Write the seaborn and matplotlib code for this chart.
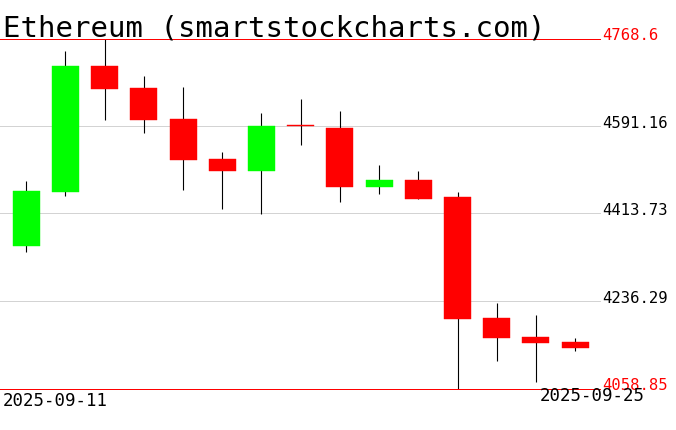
import math
import matplotlib
matplotlib.use("Agg")
import matplotlib.pyplot as plt
import seaborn as sns
import pandas as pd

# daily OHLC
dates = pd.date_range("2025-09-11", "2025-09-25", freq="D")
opens = [4349.4, 4458.9, 4713.8, 4669.2, 4607.0, 4525.3, 4501.5, 4593.0,
         4588.7, 4469.1, 4482.7, 4448.2, 4202.8, 4164.3, 4154.1]
highs = [4480.6, 4744.3, 4768.6, 4693.6, 4671.3, 4539.4, 4618.5, 4647.5,
         4622.6, 4513.1, 4500.9, 4458.3, 4232.6, 4208.9, 4162.3]
lows = [4337.3, 4450.8, 4605.0, 4578.6, 4463.0, 4424.5, 4414.3, 4554.2,
        4437.4, 4454.9, 4443.5, 4058.85, 4116.2, 4073.6, 4136.5]
closes = [4460.4, 4713.8, 4667.8, 4605.0, 4523.8, 4501.5, 4592.2, 4591.8,
          4469.1, 4482.7, 4444.1, 4201.4, 4162.9, 4152.7, 4142.6]

price_ticks = [4058.85, 4236.29, 4413.73, 4591.16, 4768.6]
price_labels = ["4058.85", "4236.29", "4413.73", "4591.16", "4768.6"]
title = "Ethereum (smartstockcharts.com)"

df = pd.DataFrame({"date": dates, "open": opens, "high": highs,
                   "low": lows, "close": closes})
df["x"] = range(len(df))
df["up"] = df["close"] >= df["open"]

sns.set_theme(style="white")
plt.rcParams["font.family"] = ["DejaVu Sans Mono"]
plt.rcParams["text.color"] = "black"

W, H = 676, 431
fig = plt.figure(figsize=(W / 100, H / 100), dpi=100)
fig.patch.set_facecolor("white")

# axes: 4768.6 sits at y=40px, 4058.85 at y=390px
top_px, bot_px = 38, 392
ax = fig.add_axes([0, (H - bot_px) / H, 601 / W, (bot_px - top_px) / H])
per_px = (price_ticks[-1] - price_ticks[0]) / 350
ymax = price_ticks[-1] + 2 * per_px
ax.set_ylim(price_ticks[0] - 2 * per_px, ymax)
ax.set_xlim(-0.67, len(df) - 1 + 0.66)
ax.set_axis_off()


def one_px_band(v, color, z):
    # snap a horizontal line to a single pixel row
    row = math.floor((ymax - v) / per_px + 1e-6)
    lo = ymax - (row + 1) * per_px
    ax.axhspan(lo, lo + per_px, color=color, lw=0, zorder=z)


# grid and max/min lines
for v in price_ticks[1:-1]:
    one_px_band(v, "#d3d3d3", 1)
for v in (price_ticks[0], price_ticks[-1]):
    one_px_band(v, "#ff0000", 4)

# wicks
ax.vlines(df["x"], df["low"], df["high"], color="black", lw=0.8, zorder=2)

# bodies
colors = ["#00ff00" if u else "#ff0000" for u in df["up"]]
bottoms = df[["open", "close"]].min(axis=1)
heights = (df["close"] - df["open"]).abs().clip(lower=1.5)
ax.bar(df["x"], heights, bottom=bottoms, width=0.69, color=colors,
       edgecolor=colors, linewidth=0.3, zorder=3)

# price labels on the right
for v, lab in zip(price_ticks, price_labels):
    c = "#ff0000" if v in (price_ticks[0], price_ticks[-1]) else "black"
    ax.text(1.0025, v - 0.5 * per_px, lab, transform=ax.get_yaxis_transform(),
            ha="left", va="baseline", fontsize=11.2, color=c, clip_on=False)

# title
fig.text(3 / W, (H - 37) / H, title, fontsize=20.9, color="black",
         ha="left", va="baseline")

# date labels
fig.text(3 / W, (H - 406) / H, dates[0].strftime("%Y-%m-%d"),
         fontsize=12.5, color="black", ha="left", va="baseline")
fig.text(540 / W, (H - 401.5) / H, dates[-1].strftime("%Y-%m-%d"),
         fontsize=12.5, color="black", ha="left", va="baseline")

fig.savefig("out.png", dpi=100)
plt.close(fig)
